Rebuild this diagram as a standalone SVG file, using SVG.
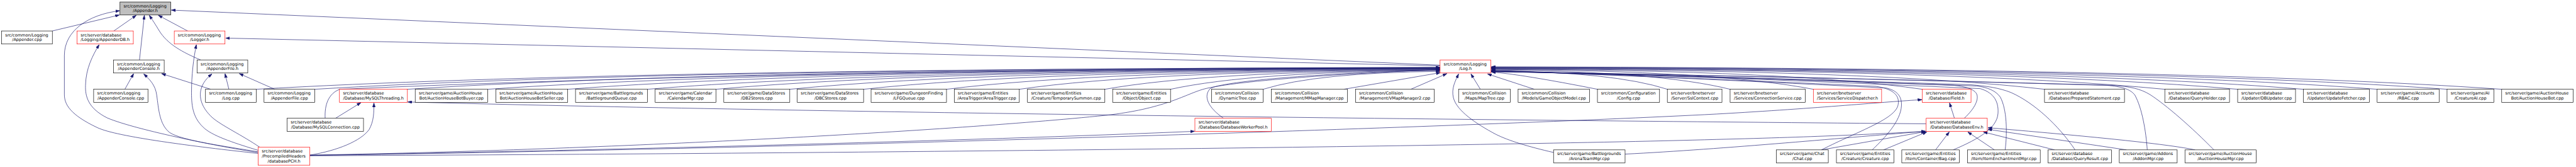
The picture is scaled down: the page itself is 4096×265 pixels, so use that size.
<svg xmlns="http://www.w3.org/2000/svg" width="4096" height="265" viewBox="0 0 4096 265">
<defs>
<style>
.n rect{fill:#fff;stroke:#000;stroke-width:1.3}
.n.r rect{stroke:#ff0000}
.n.g rect{fill:#bfbfbf}
.n text{font-family:"DejaVu Sans","Liberation Sans",sans-serif;font-size:12.7px;fill:#000}
.n text.c{text-anchor:middle}
#edges path{fill:none;stroke:#191970;stroke-width:1.3;marker-end:url(#arr)}
</style>
<marker id="arr" markerUnits="userSpaceOnUse" viewBox="0 0 13 9" refX="12.7" refY="4.4" markerWidth="13" markerHeight="9" orient="auto">
<path d="M0,0 L12.7,4.4 L0,8.8 Z" fill="#191970" stroke="#191970" stroke-width="1"/>
</marker>
</defs>
<rect x="0" y="0" width="4096" height="265" fill="#fff"/>
<g transform="scale(0.517)">
<g id="edges">
<path d="M161,95 L367,46"/>
<path d="M794,471 C600,450 360,420 300,392 C215,352 198,320 198,290 L198,170 C198,95 270,45 368,33"/>
<path d="M350,95 L419,47"/>
<path d="M429,184 L444,47"/>
<path d="M617,184 C560,160 515,135 490,95 C478,75 468,60 459,47"/>
<path d="M577,95 L487,47"/>
<path d="M4429,200 L527,31"/>
<path d="M794,468 C700,455 420,400 330,362 C270,332 262,295 263,262 C264,210 285,170 305,137"/>
<path d="M796,462 C730,442 660,420 630,395 C595,365 589,330 589,285 C589,230 595,180 604,137"/>
<path d="M4429,202 L694,117"/>
<path d="M794,466 C700,450 560,432 522,407 C490,382 488,335 482,292 C478,262 462,245 442,227"/>
<path d="M384,274 L411,226"/>
<path d="M648,274 L497,226"/>
<path d="M799,452 C745,415 680,385 652,360 C620,330 612,300 618,275 C624,252 638,238 652,227"/>
<path d="M704,274 L692,226"/>
<path d="M845,274 L736,226"/>
<path d="M953,476 C1040,462 1110,432 1135,398 C1150,372 1150,345 1150,316"/>
<path d="M1032,363 L1110,315"/>
<path d="M5924,380 C4500,368 2500,346 1254,313"/>
<path d="M788,274 Q1880,211 4429,207"/>
<path d="M968,274 Q2006,211 4429,207"/>
<path d="M1000,363 C998,322 1010,287 1045,274 Q2400,214 4429,208"/>
<path d="M1253,274 Q2206,212 4429,208"/>
<path d="M1500,274 Q2379,213 4429,209"/>
<path d="M1746,274 Q2551,213 4429,209"/>
<path d="M1991,274 Q2722,214 4429,210"/>
<path d="M2202,274 Q2870,214 4429,210"/>
<path d="M2429,274 Q3029,215 4429,211"/>
<path d="M2656,274 Q3188,216 4429,212"/>
<path d="M2911,274 Q3366,217 4429,213"/>
<path d="M3135,274 Q3523,218 4429,214"/>
<path d="M3398,274 Q3707,219 4429,215"/>
<path d="M3600,274 Q3849,220 4429,216"/>
<path d="M953,476 C1800,462 2900,405 3400,354 C3580,334 3640,292 3700,274 C3800,246 4200,222 4429,214"/>
<path d="M3763,363 C3715,330 3700,295 3722,272 C3760,248 4100,222 4429,215"/>
<path d="M3885,274 Q4048,223 4429,219"/>
<path d="M4133,274 L4430,223"/>
<path d="M4339,274 L4450,226"/>
<path d="M4553,274 L4524,227"/>
<path d="M4719,274 L4575,227"/>
<path d="M4913,274 Q4680,228 4587,221"/>
<path d="M5128,274 Q4965,221 4587,217"/>
<path d="M5321,274 Q5100,219 4587,215"/>
<path d="M5577,274 Q5280,217 4587,213"/>
<path d="M5912,274 Q5514,216 4587,212"/>
<path d="M6288,274 Q5778,215 4587,211"/>
<path d="M6658,274 Q6036,214 4587,210"/>
<path d="M6882,274 Q6193,213 4587,209"/>
<path d="M7084,274 Q6335,212 4587,208"/>
<path d="M7311,274 Q6494,211 4587,207"/>
<path d="M7526,274 Q6644,210 4587,206"/>
<path d="M7694,274 Q6762,209 4587,205"/>
<path d="M5602,460 C5720,400 5832,365 5838,320 C5843,288 5815,272 5770,265 Q5000,230 4587,217"/>
<path d="M5758,460 C5800,420 5845,372 5848,325 C5850,292 5830,276 5800,270 Q5000,230 4587,217"/>
<path d="M6007,460 C6090,425 6142,392 6145,348 C6148,305 6125,282 6090,272 Q5200,232 4587,218"/>
<path d="M6167,460 C6174,405 6172,335 6152,298 C6138,278 6112,268 6080,264 Q5200,232 4587,218"/>
<path d="M6382,460 C6330,383 6255,315 6185,284 C6150,270 6110,264 6060,260 Q5200,232 4587,219"/>
<path d="M6041,363 C6075,332 6088,302 6078,286 C6068,272 6045,266 6010,262 Q5200,232 4587,219"/>
<path d="M6604,460 C6600,402 6588,332 6566,292 C6552,273 6525,266 6480,262 Q5400,232 4587,220"/>
<path d="M6809,460 C6742,392 6662,322 6612,290 C6582,272 6552,266 6500,262 Q5400,232 4587,220"/>
<path d="M4778,468 C4700,450 4640,432 4600,412 C4540,380 4480,340 4470,300 C4463,272 4476,248 4486,227"/>
<path d="M5602,460 L5922,404"/>
<path d="M5793,460 L5926,405"/>
<path d="M5953,460 L5995,405"/>
<path d="M6134,460 L6052,405"/>
<path d="M6319,460 L6100,405"/>
<path d="M6540,460 L6114,397"/>
<path d="M6751,460 Q6640,436 6114,392"/>
<path d="M4998,473 C5300,458 5700,420 5922,403"/>
<path d="M953,478 C2500,472 4500,450 5280,428 C5600,420 5800,410 5922,403"/>
<path d="M6011,363 L5996,316"/>
<path d="M953,477 C2500,455 4500,390 5280,350 C5600,332 5800,312 5911,306"/>
<path d="M953,477 C1800,462 3000,432 3674,403"/>
</g>
<g id="n_appender_h" class="n g"><rect x="369" y="6" width="156" height="40"/><text x="380" y="22.5">src/common/Logging</text><text class="c" x="447" y="37.5">/Appender.h</text></g>
<g id="n_appender_cpp" class="n"><rect x="5" y="95" width="156" height="40"/><text x="16" y="111.5">src/common/Logging</text><text class="c" x="83" y="126.5">/Appender.cpp</text></g>
<g id="n_appenderdb_h" class="n r"><rect x="237" y="95" width="173" height="40"/><text x="248" y="111.5">src/server/database</text><text class="c" x="323.5" y="126.5">/Logging/AppenderDB.h</text></g>
<g id="n_logger_h" class="n r"><rect x="536" y="95" width="156" height="40"/><text x="547" y="111.5">src/common/Logging</text><text class="c" x="614" y="126.5">/Logger.h</text></g>
<g id="n_appenderconsole_h" class="n"><rect x="349" y="184" width="156" height="40"/><text x="360" y="200.5">src/common/Logging</text><text class="c" x="427" y="215.5">/AppenderConsole.h</text></g>
<g id="n_appenderfile_h" class="n"><rect x="606" y="184" width="156" height="40"/><text x="617" y="200.5">src/common/Logging</text><text class="c" x="684" y="215.5">/AppenderFile.h</text></g>
<g id="n_log_h" class="n r"><rect x="4429" y="184" width="156" height="40"/><text x="4440" y="200.5">src/common/Logging</text><text class="c" x="4507" y="215.5">/Log.h</text></g>
<g id="n_appenderconsole_cpp" class="n"><rect x="288" y="274" width="167" height="40"/><text x="299" y="290.5">src/common/Logging</text><text class="c" x="371.5" y="305.5">/AppenderConsole.cpp</text></g>
<g id="n_log_cpp" class="n"><rect x="632" y="274" width="156" height="40"/><text x="643" y="290.5">src/common/Logging</text><text class="c" x="710" y="305.5">/Log.cpp</text></g>
<g id="n_appenderfile_cpp" class="n"><rect x="812" y="274" width="156" height="40"/><text x="823" y="290.5">src/common/Logging</text><text class="c" x="890" y="305.5">/AppenderFile.cpp</text></g>
<g id="n_mysqlthreading_h" class="n r"><rect x="1044" y="274" width="209" height="40"/><text x="1055" y="290.5">src/server/database</text><text class="c" x="1148.5" y="305.5">/Database/MySQLThreading.h</text></g>
<g id="n_ahbotbuyer" class="n"><rect x="1277" y="274" width="223" height="40"/><text x="1288" y="290.5">src/server/game/AuctionHouse</text><text class="c" x="1388.5" y="305.5">Bot/AuctionHouseBotBuyer.cpp</text></g>
<g id="n_ahbotseller" class="n"><rect x="1525" y="274" width="221" height="40"/><text x="1536" y="290.5">src/server/game/AuctionHouse</text><text class="c" x="1635.5" y="305.5">Bot/AuctionHouseBotSeller.cpp</text></g>
<g id="n_bgqueue" class="n"><rect x="1770" y="274" width="221" height="40"/><text x="1781" y="290.5">src/server/game/Battlegrounds</text><text class="c" x="1880.5" y="305.5">/BattlegroundQueue.cpp</text></g>
<g id="n_calendarmgr" class="n"><rect x="2015" y="274" width="187" height="40"/><text x="2026" y="290.5">src/server/game/Calendar</text><text class="c" x="2108.5" y="305.5">/CalendarMgr.cpp</text></g>
<g id="n_db2stores" class="n"><rect x="2226" y="274" width="203" height="40"/><text x="2237" y="290.5">src/server/game/DataStores</text><text class="c" x="2327.5" y="305.5">/DB2Stores.cpp</text></g>
<g id="n_dbcstores" class="n"><rect x="2452" y="274" width="204" height="40"/><text x="2463" y="290.5">src/server/game/DataStores</text><text class="c" x="2554" y="305.5">/DBCStores.cpp</text></g>
<g id="n_lfgqueue" class="n"><rect x="2679" y="274" width="232" height="40"/><text x="2690" y="290.5">src/server/game/DungeonFinding</text><text class="c" x="2795" y="305.5">/LFGQueue.cpp</text></g>
<g id="n_areatrigger" class="n"><rect x="2935" y="274" width="200" height="40"/><text x="2946" y="290.5">src/server/game/Entities</text><text class="c" x="3035" y="305.5">/AreaTrigger/AreaTrigger.cpp</text></g>
<g id="n_tempsummon" class="n"><rect x="3160" y="274" width="238" height="40"/><text x="3171" y="290.5">src/server/game/Entities</text><text class="c" x="3279" y="305.5">/Creature/TemporarySummon.cpp</text></g>
<g id="n_object" class="n"><rect x="3422" y="274" width="178" height="40"/><text x="3433" y="290.5">src/server/game/Entities</text><text class="c" x="3511" y="305.5">/Object/Object.cpp</text></g>
<g id="n_dynamictree" class="n"><rect x="3726" y="274" width="159" height="40"/><text x="3737" y="290.5">src/common/Collision</text><text class="c" x="3805.5" y="305.5">/DynamicTree.cpp</text></g>
<g id="n_mmapmanager" class="n"><rect x="3910" y="274" width="234" height="40"/><text x="3921" y="290.5">src/common/Collision</text><text class="c" x="4027" y="305.5">/Management/MMapManager.cpp</text></g>
<g id="n_vmapmanager2" class="n"><rect x="4169" y="274" width="242" height="40"/><text x="4180" y="290.5">src/common/Collision</text><text class="c" x="4290" y="305.5">/Management/VMapManager2.cpp</text></g>
<g id="n_maptree" class="n"><rect x="4486" y="274" width="159" height="40"/><text x="4497" y="290.5">src/common/Collision</text><text class="c" x="4565.5" y="305.5">/Maps/MapTree.cpp</text></g>
<g id="n_gameobjectmodel" class="n"><rect x="4669" y="274" width="220" height="40"/><text x="4680" y="290.5">src/common/Collision</text><text class="c" x="4779" y="305.5">/Models/GameObjectModel.cpp</text></g>
<g id="n_config" class="n"><rect x="4913" y="274" width="191" height="40"/><text x="4924" y="290.5">src/common/Configuration</text><text class="c" x="5008.5" y="305.5">/Config.cpp</text></g>
<g id="n_sslcontext" class="n"><rect x="5128" y="274" width="168" height="40"/><text x="5139" y="290.5">src/server/bnetserver</text><text class="c" x="5212" y="305.5">/Server/SslContext.cpp</text></g>
<g id="n_connectionservice" class="n"><rect x="5321" y="274" width="231" height="40"/><text x="5332" y="290.5">src/server/bnetserver</text><text class="c" x="5436.5" y="305.5">/Services/ConnectionService.cpp</text></g>
<g id="n_servicedispatcher_h" class="n r"><rect x="5577" y="274" width="210" height="40"/><text x="5588" y="290.5">src/server/bnetserver</text><text class="c" x="5682" y="305.5">/Services/ServiceDispatcher.h</text></g>
<g id="n_field_h" class="n r"><rect x="5912" y="274" width="150" height="40"/><text x="5923" y="290.5">src/server/database</text><text class="c" x="5987" y="305.5">/Database/Field.h</text></g>
<g id="n_preparedstatement" class="n"><rect x="6288" y="274" width="246" height="40"/><text x="6299" y="290.5">src/server/database</text><text class="c" x="6411" y="305.5">/Database/PreparedStatement.cpp</text></g>
<g id="n_queryholder" class="n"><rect x="6658" y="274" width="199" height="40"/><text x="6669" y="290.5">src/server/database</text><text class="c" x="6757.5" y="305.5">/Database/QueryHolder.cpp</text></g>
<g id="n_dbupdater" class="n"><rect x="6882" y="274" width="178" height="40"/><text x="6893" y="290.5">src/server/database</text><text class="c" x="6971" y="305.5">/Updater/DBUpdater.cpp</text></g>
<g id="n_updatefetcher" class="n"><rect x="7084" y="274" width="203" height="40"/><text x="7095" y="290.5">src/server/database</text><text class="c" x="7185.5" y="305.5">/Updater/UpdateFetcher.cpp</text></g>
<g id="n_rbac" class="n"><rect x="7311" y="274" width="191" height="40"/><text x="7322" y="290.5">src/server/game/Accounts</text><text class="c" x="7406.5" y="305.5">/RBAC.cpp</text></g>
<g id="n_creatureai" class="n"><rect x="7526" y="274" width="144" height="40"/><text x="7537" y="290.5">src/server/game/AI</text><text class="c" x="7598" y="305.5">/CreatureAI.cpp</text></g>
<g id="n_ahbot" class="n"><rect x="7694" y="274" width="220" height="40"/><text x="7705" y="290.5">src/server/game/AuctionHouse</text><text class="c" x="7804" y="305.5">Bot/AuctionHouseBot.cpp</text></g>
<g id="n_mysqlconnection" class="n"><rect x="883" y="363" width="235" height="40"/><text x="894" y="379.5">src/server/database</text><text class="c" x="1000.5" y="394.5">/Database/MySQLConnection.cpp</text></g>
<g id="n_databaseworkerpool_h" class="n r"><rect x="3675" y="363" width="235" height="40"/><text x="3686" y="379.5">src/server/database</text><text class="c" x="3792.5" y="394.5">/Database/DatabaseWorkerPool.h</text></g>
<g id="n_databaseenv_h" class="n r"><rect x="5924" y="363" width="188" height="40"/><text x="5935" y="379.5">src/server/database</text><text class="c" x="6018" y="394.5">/Database/DatabaseEnv.h</text></g>
<g id="n_databasepch_h" class="n r"><rect x="794" y="452" width="159" height="55"/><text x="805" y="469">src/server/database</text><text x="805" y="484">/PrecompiledHeaders</text><text class="c" x="873.5" y="499">/databasePCH.h</text></g>
<g id="n_arenateammgr" class="n"><rect x="4778" y="460" width="220" height="40"/><text x="4789" y="476.5">src/server/game/Battlegrounds</text><text class="c" x="4888" y="491.5">/ArenaTeamMgr.cpp</text></g>
<g id="n_chat" class="n"><rect x="5463" y="460" width="160" height="40"/><text x="5474" y="476.5">src/server/game/Chat</text><text class="c" x="5543" y="491.5">/Chat.cpp</text></g>
<g id="n_creature" class="n"><rect x="5648" y="460" width="177" height="40"/><text x="5659" y="476.5">src/server/game/Entities</text><text class="c" x="5736.5" y="491.5">/Creature/Creature.cpp</text></g>
<g id="n_bag" class="n"><rect x="5849" y="460" width="177" height="40"/><text x="5860" y="476.5">src/server/game/Entities</text><text class="c" x="5937.5" y="491.5">/Item/Container/Bag.cpp</text></g>
<g id="n_itemenchantmentmgr" class="n"><rect x="6051" y="460" width="224" height="40"/><text x="6062" y="476.5">src/server/game/Entities</text><text class="c" x="6163" y="491.5">/Item/ItemEnchantmentMgr.cpp</text></g>
<g id="n_queryresult" class="n"><rect x="6299" y="460" width="195" height="40"/><text x="6310" y="476.5">src/server/database</text><text class="c" x="6396.5" y="491.5">/Database/QueryResult.cpp</text></g>
<g id="n_addonmgr" class="n"><rect x="6518" y="460" width="178" height="40"/><text x="6529" y="476.5">src/server/game/Addons</text><text class="c" x="6607" y="491.5">/AddonMgr.cpp</text></g>
<g id="n_auctionhousemgr" class="n"><rect x="6720" y="460" width="219" height="40"/><text x="6731" y="476.5">src/server/game/AuctionHouse</text><text class="c" x="6829.5" y="491.5">/AuctionHouseMgr.cpp</text></g>
</g>
</svg>
